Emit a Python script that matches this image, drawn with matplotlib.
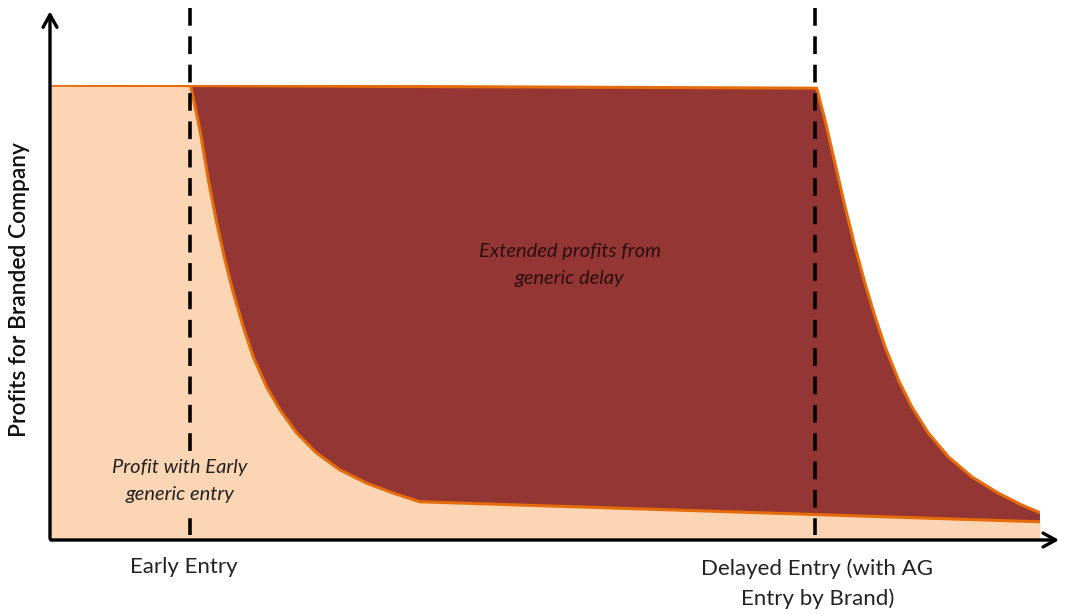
import matplotlib.pyplot as plt

plt.rcParams["font.family"] = ["Lato", "DejaVu Sans"]

# profit curves (time 0-100, profit 0-100)
early_t = [0, 14.2, 15.15, 16.0, 16.84, 17.68, 18.52, 19.53, 20.54, 21.89, 23.23,
           24.92, 26.94, 29.29, 31.99, 34.68, 37.37, 100]
early_p = [100, 99.9, 90.1, 79.1, 69.7, 61.5, 54.3, 46.8, 40.2, 33.6, 28.6,
           23.5, 19.1, 15.4, 12.5, 10.3, 8.4, 4.0]

delayed_t = [0, 77.44, 78.28, 79.29, 80.3, 81.31, 82.32, 83.33, 84.34, 85.69, 87.04,
             88.72, 90.74, 93.1, 95.79, 98.15, 100]
delayed_p = [100, 99.3, 92.3, 82.8, 73.3, 64.5, 56.4, 49.1, 42.5, 35.2, 29.3,
             23.5, 18.3, 13.9, 10.3, 7.7, 6.0]

entry_t = [14.1, 77.3]
entry_labels = ["Early Entry", "Delayed Entry (with AG\nEntry by Brand)"]

PEACH = "#fcd5b4"
MAROON = "#943634"
ORANGE = "#e46c0a"

fig = plt.figure(figsize=(10.65, 6.14), dpi=100)
ax = fig.add_axes([50 / 1065, 74 / 614, 990 / 1065, 455 / 614])
ax.set_xlim(0, 100)
ax.set_ylim(0, 100)
ax.axis("off")

ax.fill_between(early_t, early_p, 0, color=PEACH, lw=0, zorder=1)
ax.fill(delayed_t + early_t[::-1], delayed_p + early_p[::-1], color=MAROON, lw=0, zorder=2)
ax.plot(early_t, early_p, color=ORANGE, lw=2.2, zorder=3, solid_joinstyle="round")
ax.plot(delayed_t, delayed_p, color=ORANGE, lw=2.2, zorder=3, solid_joinstyle="round")

for t in entry_t:
    ax.plot([t, t], [117, 1.0], color="black", lw=2.6, linestyle=(0, (4.91, 2.94)),
            clip_on=False, zorder=4)

# axes with arrows
ax.annotate("", xy=(102.2, 0), xytext=(-0.2, 0), xycoords="data",
            arrowprops=dict(arrowstyle="->,head_length=0.9,head_width=0.5", lw=2.4, color="black"),
            annotation_clip=False, zorder=5)
ax.annotate("", xy=(0, 116.8), xytext=(0, -0.3), xycoords="data",
            arrowprops=dict(arrowstyle="->,head_length=0.9,head_width=0.5", lw=2.4, color="black"),
            annotation_clip=False, zorder=5)

ax.text(entry_t[0] - 0.6, -5.9, entry_labels[0], ha="center", va="center",
        fontsize=16, color="#222222")
ax.text(entry_t[1] + 0.2, -9.6, entry_labels[1], ha="center", va="center",
        fontsize=16, color="#222222", linespacing=1.58)

# label box hides the dashed line behind it
ax.text(13.1, 13.0, "Profit with Early\ngeneric entry", ha="center", va="center",
        fontsize=14.5, style="italic", color="#222222", linespacing=1.7, zorder=6,
        bbox=dict(facecolor=PEACH, edgecolor="none", pad=4))
ax.text(52.5, 60.4, "Extended profits from\ngeneric delay", ha="center", va="center",
        fontsize=14.5, style="italic", color="#2a0f0f", linespacing=1.75, zorder=6)

ax.text(-3.1, 55, "Profits for Branded Company", rotation=90, ha="center", va="center",
        fontsize=16.4, fontweight="semibold", color="#111111")

fig.savefig("out.png", dpi=100)
